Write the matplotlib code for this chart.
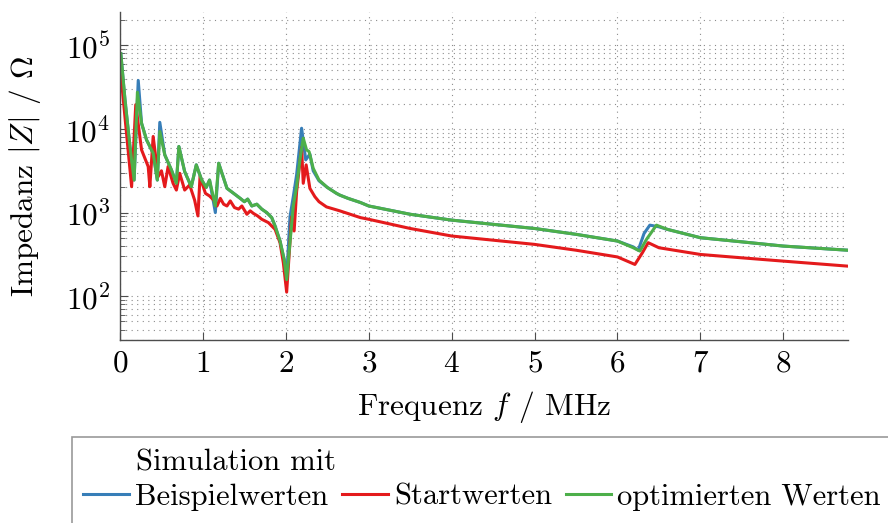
import matplotlib
matplotlib.use("Agg")
import matplotlib.pyplot as plt
from matplotlib.patches import Rectangle
from matplotlib.ticker import LogLocator, NullFormatter, FixedLocator

# ---------------- data ----------------
f_beispiel = [0.01, 0.06, 0.12, 0.17, 0.22, 0.26, 0.32, 0.40, 0.45, 0.48, 0.54, 0.62, 0.68, 0.71,
              0.78, 0.86, 0.92, 0.985, 1.04, 1.08, 1.15, 1.19, 1.23, 1.29, 1.37, 1.45, 1.50, 1.54,
              1.59, 1.65, 1.71, 1.77, 1.83, 1.87, 1.93, 1.98, 2.01, 2.05, 2.09, 2.13, 2.19, 2.24,
              2.29, 2.33, 2.40, 2.50, 2.61, 2.65, 2.75, 2.90, 3.0, 3.5, 4.0, 4.5, 5.0, 5.5, 6.0,
              6.19, 6.25, 6.32, 6.39, 6.5, 6.6, 7.0, 7.5, 8.0, 8.78]
z_beispiel = [79400, 22400, 6170, 2450, 38000, 11700, 7410, 5130, 2450, 12000, 4900, 3240, 2240, 6170,
              3090, 2040, 3720, 2450, 2000, 2450, 1000, 3890, 2950, 1950, 1700, 1480, 1350, 1450,
              1200, 1260, 1100, 1000, 871, 692, 457, 275, 166, 891, 1550, 2820, 10200, 4270,
              5010, 3160, 2400, 2000, 1700, 1620, 1480, 1320, 1200, 955, 813, 724, 646, 550, 457,
              389, 355, 562, 708, 676, 631, 501, 447, 398, 355]

f_start = [0.01, 0.14, 0.19, 0.26, 0.34, 0.36, 0.40, 0.46, 0.50, 0.54, 0.58, 0.64, 0.68, 0.72,
           0.78, 0.84, 0.90, 0.94, 0.965, 1.03, 1.08, 1.13, 1.17, 1.21, 1.25, 1.29, 1.33, 1.38,
           1.43, 1.47, 1.53, 1.57, 1.61, 1.66, 1.71, 1.79, 1.87, 1.93, 1.97, 2.01, 2.07, 2.10,
           2.13, 2.17, 2.19, 2.21, 2.245, 2.29, 2.35, 2.40, 2.49, 2.65, 2.90, 3.0, 3.5, 4.0, 4.5,
           5.0, 5.5, 6.0, 6.21, 6.30, 6.37, 6.5, 7.0, 7.5, 8.0, 8.78]
z_start = [45700, 2040, 19500, 5620, 3550, 2040, 8130, 2690, 3160, 2040, 3550, 2240, 1860, 2950,
           1860, 2140, 1410, 912, 2690, 1700, 1580, 1410, 1200, 1480, 1260, 1200, 1380, 1150,
           1100, 1200, 955, 1050, 977, 912, 832, 759, 631, 437, 251, 112, 891, 603,
           1780, 3980, 6030, 2240, 3720, 1950, 1550, 1350, 1170, 1050, 871, 832, 646, 525, 468,
           417, 355, 295, 240, 331, 437, 380, 316, 288, 263, 229]

f_optimiert = [0.01, 0.06, 0.12, 0.17, 0.21, 0.26, 0.32, 0.40, 0.45, 0.48, 0.54, 0.62, 0.68, 0.71,
               0.78, 0.86, 0.92, 0.985, 1.04, 1.08, 1.15, 1.19, 1.23, 1.29, 1.37, 1.45, 1.50, 1.54,
               1.59, 1.65, 1.71, 1.77, 1.83, 1.87, 1.93, 1.98, 2.01, 2.05, 2.09, 2.13, 2.17, 2.21,
               2.25, 2.28, 2.33, 2.40, 2.50, 2.61, 2.65, 2.75, 2.90, 3.0, 3.5, 4.0, 4.5, 5.0, 5.5,
               6.0, 6.19, 6.27, 6.35, 6.47, 6.6, 7.0, 7.5, 8.0, 8.78]
z_optimiert = [79400, 22400, 6170, 2450, 27500, 11700, 7410, 5130, 2450, 9330, 4900, 3240, 2240, 6170,
               3090, 2040, 3720, 2450, 2000, 2450, 1200, 3890, 2950, 1950, 1700, 1480, 1350, 1450,
               1200, 1260, 1100, 1000, 871, 692, 457, 275, 158, 437, 1200, 2040, 4270, 7760,
               5620, 5370, 3390, 2450, 2000, 1700, 1620, 1480, 1320, 1200, 955, 813, 724, 646, 550,
               457, 380, 347, 479, 708, 631, 501, 447, 398, 355]

x_ticks = [0, 1, 2, 3, 4, 5, 6, 7, 8]
series_labels = ["Beispielwerten", "Startwerten", "optimierten Werten"]
legend_title = "Simulation mit"
x_label = "Frequenz $f$ / MHz"
y_label = "Impedanz $|Z|$ / $\\Omega$"

# ---------------- style ----------------
plt.rcParams["font.family"] = ["cmr10", "DejaVu Serif"]
plt.rcParams["mathtext.fontset"] = "cm"
plt.rcParams["axes.unicode_minus"] = False
plt.rcParams["axes.formatter.use_mathtext"] = True

FS = 22.5
LFS = 22
colors = ["#377eb8", "#e41a1c", "#4daf4a"]

fig = plt.figure(figsize=(8.88, 5.23), dpi=100)
W, H = 888, 523
ax = fig.add_axes([120 / W, 1 - 340 / H, (848 - 120) / W, (340 - 12) / H])

for fx, zy, c, lab in zip([f_beispiel, f_start, f_optimiert],
                          [z_beispiel, z_start, z_optimiert], colors, series_labels):
    ax.plot(fx, zy, color=c, lw=2.2, label=lab)

ax.set_yscale("log")
ax.set_xlim(0, 8.78)
ax.set_ylim(30, 2.5e5)

ax.xaxis.set_major_locator(FixedLocator(x_ticks))
ax.yaxis.set_major_locator(LogLocator(base=10, numticks=10))
ax.yaxis.set_minor_locator(LogLocator(base=10, subs=range(2, 10), numticks=100))
ax.yaxis.set_minor_formatter(NullFormatter())

ax.grid(True, which="major", axis="both", linestyle=(0, (1, 4)), color="0.55", lw=0.8)
ax.grid(True, which="minor", axis="y", linestyle=(0, (1, 4)), color="0.55", lw=0.8)

for s in ["top", "right"]:
    ax.spines[s].set_visible(False)
for s in ["left", "bottom"]:
    ax.spines[s].set_linewidth(1.0)
    ax.spines[s].set_color("0.3")

ax.tick_params(axis="both", which="major", direction="in", length=6, width=0.8,
               labelsize=FS, color="0.3", pad=7)
ax.tick_params(axis="y", which="minor", direction="in", length=3.5, width=0.6, color="0.3")
ax.tick_params(axis="x", which="minor", bottom=False)

ax.set_xlabel(x_label, fontsize=FS, labelpad=8)
ax.set_ylabel(y_label, fontsize=FS)
ax.yaxis.set_label_coords(-0.106, 0.5)

# legend frame (extends beyond the right/bottom edge as in the reference)
fig.patches.append(Rectangle((72 / W, -0.1), 1.0, (1 - 437 / H) + 0.1,
                             transform=fig.transFigure, fill=False,
                             edgecolor="0.6", lw=1.2, clip_on=False))
fig.text(136 / W, 1 - 463 / H, legend_title, fontsize=LFS, ha="left", va="center")

handles, labels = ax.get_legend_handles_labels()
leg = fig.legend(handles, labels, ncol=3, frameon=False, fontsize=LFS,
                 loc="center left", bbox_to_anchor=(83 / W, 1 - 497 / H),
                 handlelength=1.5, handletextpad=0.2, columnspacing=0.45,
                 borderpad=0.0, borderaxespad=0.0)

fig.savefig("out.png", dpi=100)
